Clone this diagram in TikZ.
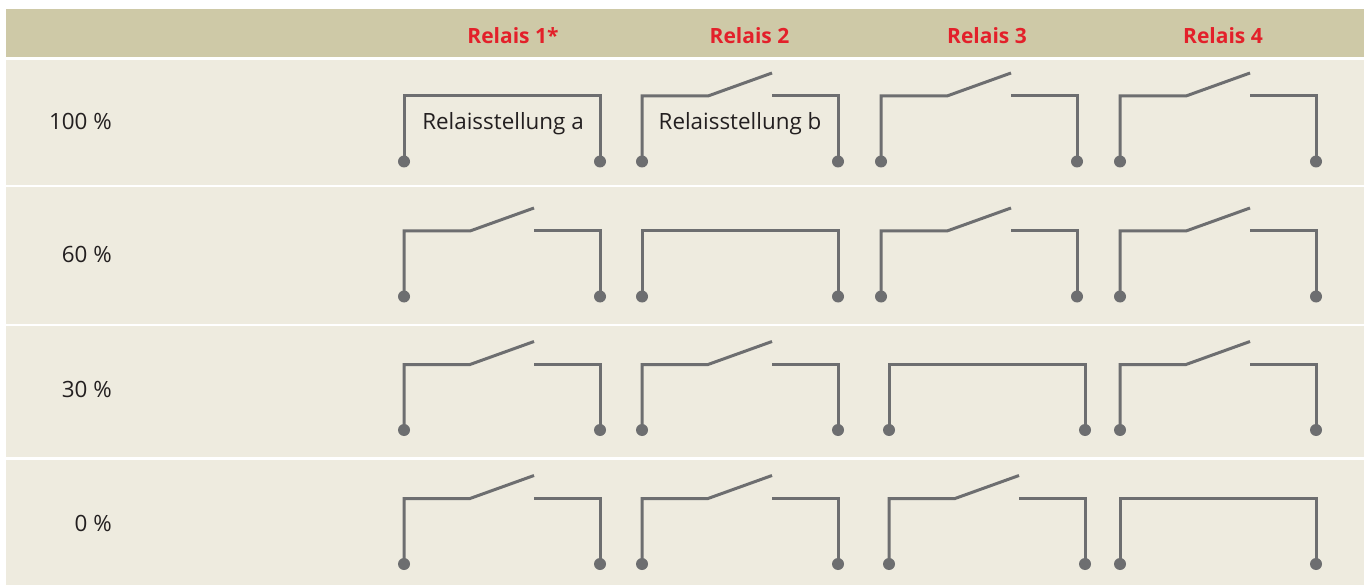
\documentclass[tikz,border=0pt]{standalone}
\usepackage{fontspec}
\setmainfont{Open Sans}
\definecolor{headbg}{HTML}{CEC9A7}
\definecolor{rowbg}{HTML}{EEEBDF}
\definecolor{relred}{HTML}{E3202A}
\definecolor{wiregray}{HTML}{6D6E70}
\definecolor{txt}{HTML}{231F20}
\tikzset{
  wire/.style={draw=wiregray, line width=3pt, line cap=butt, line join=miter},
  termdot/.style={fill=wiregray},
  headtxt/.style={text=relred, font=\fontsize{21}{25}\selectfont\bfseries, anchor=base, inner sep=0pt},
  pcttxt/.style={text=txt, font=\fontsize{22.4}{26}\selectfont, anchor=base east, inner sep=0pt},
  postxt/.style={text=txt, font=\fontsize{22.4}{26}\selectfont, anchor=base, inner sep=0pt}
}
\newcommand\swopen[2]{%
  \draw[wire] (#1,#2+65.5) -- (#1,#2) -- (#1+66,#2) -- (#1+130,#2-23);
  \draw[wire] (#1+130,#2) -- (#1+196,#2) -- (#1+196,#2+65.5);
  \fill[termdot] (#1,#2+65.5) circle (6);
  \fill[termdot] (#1+196,#2+65.5) circle (6);
}
\newcommand\swclosed[2]{%
  \draw[wire] (#1,#2+65.5) -- (#1,#2) -- (#1+196,#2) -- (#1+196,#2+65.5);
  \fill[termdot] (#1,#2+65.5) circle (6);
  \fill[termdot] (#1+196,#2+65.5) circle (6);
}
\begin{document}
\begin{tikzpicture}[x=1pt,y=-1pt]
\useasboundingbox (0,0) rectangle (1367,585);
\fill[white] (0,0) rectangle (1367,585);
% table bands
\fill[headbg] (6,9) rectangle (1364,57);
\fill[rowbg] (6,60) rectangle (1364,184.7);
\fill[rowbg] (6,187.3) rectangle (1364,324);
\fill[rowbg] (6,326) rectangle (1364,457);
\fill[rowbg] (6,459.5) rectangle (1364,585);
% header
\node[headtxt] (h1) at (513,43.3) {Relais 1*};
\node[headtxt] (h2) at (749.5,43.3) {Relais 2};
\node[headtxt] (h3) at (987,43.3) {Relais 3};
\node[headtxt] (h4) at (1223,43.3) {Relais 4};
% percentages
\node[pcttxt] (p100) at (112,129.3) {100 \%};
\node[pcttxt] (p60) at (112,262.7) {60 \%};
\node[pcttxt] (p30) at (112,397) {30 \%};
\node[pcttxt] (p0) at (112,531) {0 \%};
% row 100 %
\swclosed{404}{96}
\swopen{642}{96}
\swopen{881}{96}
\swopen{1120}{96}
\node[postxt] (posa) at (503,129.3) {Relaisstellung a};
\node[postxt] (posb) at (740,129.3) {Relaisstellung b};
% row 60 %
\swopen{404}{231}
\swclosed{642}{231}
\swopen{881}{231}
\swopen{1120}{231}
% row 30 %
\swopen{404}{364.5}
\swopen{642}{364.5}
\swclosed{889}{364.5}
\swopen{1120}{364.5}
% row 0 %
\swopen{404}{498.5}
\swopen{642}{498.5}
\swopen{889}{498.5}
\swclosed{1120}{498.5}
\end{tikzpicture}
\end{document}
